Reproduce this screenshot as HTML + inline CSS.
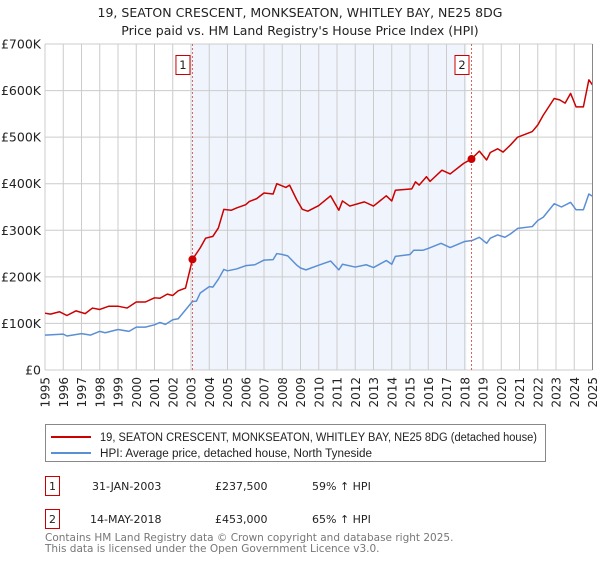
<!DOCTYPE html>
<html><head><meta charset="utf-8"><style>
body{margin:0;background:#fff;font-family:"Liberation Sans","DejaVu Sans",sans-serif;}
text{font-family:"DejaVu Sans","Liberation Sans",sans-serif;}
</style></head><body>
<svg id="chart" width="600" height="560" xmlns="http://www.w3.org/2000/svg">
<text x="300" y="17" text-anchor="middle" font-size="12.5" fill="#222">19, SEATON CRESCENT, MONKSEATON, WHITLEY BAY, NE25 8DG</text>
<text x="300" y="35" text-anchor="middle" font-size="12.5" fill="#222">Price paid vs. HM Land Registry's House Price Index (HPI)</text>
<g id="plot"></g>
<g>
<rect x="45.5" y="424.5" width="500" height="37" fill="#fff" stroke="#888"/>
<line x1="51" y1="437" x2="91" y2="437" stroke="#cc0000" stroke-width="2"/>
<text x="100" y="441" font-size="11.5" fill="#222" style="font-family:'Liberation Sans',sans-serif" textLength="437" lengthAdjust="spacingAndGlyphs">19, SEATON CRESCENT, MONKSEATON, WHITLEY BAY, NE25 8DG (detached house)</text>
<line x1="51" y1="453" x2="91" y2="453" stroke="#5b8fd4" stroke-width="2"/>
<text x="100" y="457" font-size="11.5" fill="#222" style="font-family:'Liberation Sans',sans-serif" textLength="272" lengthAdjust="spacingAndGlyphs">HPI: Average price, detached house, North Tyneside</text>
</g>
<g font-size="11" fill="#222">
<rect x="45.5" y="476.5" width="14" height="19" fill="#fff" stroke="#cc0000"/>
<text x="52.5" y="490" text-anchor="middle">1</text>
<text x="92" y="490">31-JAN-2003</text><text x="215" y="490">£237,500</text><text x="312" y="490">59% ↑ HPI</text>
</g>
<g font-size="11" fill="#222">
<rect x="45.5" y="509.5" width="14" height="19" fill="#fff" stroke="#cc0000"/>
<text x="52.5" y="523" text-anchor="middle">2</text>
<text x="90" y="523">14-MAY-2018</text><text x="215" y="523">£453,000</text><text x="312" y="523">65% ↑ HPI</text>
</g>
<text x="45" y="541" font-size="10.5" fill="#777">Contains HM Land Registry data © Crown copyright and database right 2025.</text>
<text x="45" y="552" font-size="10.5" fill="#777">This data is licensed under the Open Government Licence v3.0.</text>
</svg>
<script>
const yTicks=[0,100,200,300,400,500,600,700];
const yTickLabels=["£0","£100K","£200K","£300K","£400K","£500K","£600K","£700K"];
const xYears=[1995,1996,1997,1998,1999,2000,2001,2002,2003,2004,2005,2006,2007,2008,2009,2010,2011,2012,2013,2014,2015,2016,2017,2018,2019,2020,2021,2022,2023,2024,2025];
const saleDates=[2003.08,2018.37];
const salePrices=[237.5,453];
const saleLabels=["1","2"];
const redT=[1995,1995.3,1995.8,1996.2,1996.7,1997.2,1997.6,1998,1998.5,1999,1999.5,2000,2000.5,2001,2001.3,2001.7,2002,2002.3,2002.7,2003.08,2003.5,2003.8,2004.2,2004.5,2004.8,2005.2,2005.5,2006,2006.2,2006.6,2007,2007.5,2007.7,2008.2,2008.4,2008.8,2009.1,2009.4,2010,2010.65,2011.1,2011.3,2011.7,2012.5,2013,2013.7,2014,2014.2,2015.1,2015.3,2015.5,2015.9,2016.1,2016.75,2017.2,2017.95,2018.37,2018.8,2019.2,2019.4,2019.8,2020.1,2020.5,2020.9,2021.7,2022,2022.3,2022.9,2023.2,2023.5,2023.8,2024.1,2024.5,2024.8,2025];
const redV=[122,120,125,117,127,121,133,130,137,137,133,146,146,155,154,163,160,170,176,237.5,262,283,287,305,345,343,348,355,362,368,380,378,400,392,397,365,345,341,353,374,343,363,352,361,352,374,363,386,389,404,397,415,405,429,421,444,453,470,451,467,475,468,483,500,512,526,547,583,580,573,594,565,565,623,612];
const blueT=[1995,1996,1996.2,1997,1997.5,1998,1998.3,1999,1999.6,2000,2000.5,2001,2001.3,2001.6,2002,2002.3,2003.08,2003.3,2003.5,2004,2004.2,2004.5,2004.8,2005,2005.5,2006,2006.5,2007,2007.5,2007.7,2008,2008.3,2008.8,2009,2009.3,2010,2010.65,2011.1,2011.3,2012,2012.6,2013,2013.7,2014,2014.2,2015,2015.2,2015.7,2016,2016.7,2017.2,2018,2018.4,2018.8,2019.2,2019.4,2019.8,2020.2,2020.5,2020.9,2021.7,2022,2022.3,2022.9,2023.3,2023.8,2024.1,2024.5,2024.8,2025];
const blueV=[75,77,73,78,75,83,80,87,83,92,92,97,102,98,108,110,147,148,165,179,178,195,216,213,217,224,226,236,237,250,248,245,225,219,215,225,234,215,227,221,226,220,235,227,244,248,257,257,261,272,263,276,278,285,272,283,290,285,292,304,308,321,328,357,350,360,344,344,378,373];
const NS="http://www.w3.org/2000/svg";
const X0=45,X1=592.5,Y0=370,Y1=44;
const xs=t=>X0+(t-1995)/30*(X1-X0);
const ys=v=>Y0-v/700*(Y0-Y1);
const g=document.getElementById('plot');
function mk(tag,at){const e=document.createElementNS(NS,tag);for(const k in at)e.setAttribute(k,at[k]);g.appendChild(e);return e;}
let sh=mk('rect',{x:xs(saleDates[0]),y:Y1,width:xs(2018.1)-xs(saleDates[0]),height:Y0-Y1,fill:'#f0f4fd'});


xYears.forEach(yr=>{
 const l=mk('line',{x1:xs(yr),x2:xs(yr),y1:Y1,y2:Y0,stroke:'#ccc','stroke-width':1});
 
 
 const t=mk('text',{x:0,y:0,'font-size':12,fill:'#222','text-anchor':'end',transform:`translate(${xs(yr)+4.5},377) rotate(-90)`});
 t.textContent=yr;
 
 
});
yTicks.forEach((v,i)=>{
 const l=mk('line',{x1:X0,x2:X1,y1:ys(v),y2:ys(v),stroke:'#ccc','stroke-width':1});
 
 
 const t=mk('text',{x:41,y:ys(v)+4.5,'font-size':12.5,fill:'#222','text-anchor':'end'});
 t.textContent=yTickLabels[i];
 
 
});
function line(T,V,col,name){
 const p=mk('polyline',{points:T.map((t,i)=>xs(t)+','+ys(V[i])).join(' '),fill:'none',stroke:col,'stroke-width':1.5,'stroke-linejoin':'round'});
 
 
}
line(blueT,blueV,'#5b8fd4','hpi-line');
line(redT,redV,'#cc0000','price-paid-line');
saleDates.forEach((d,i)=>{
 const l=mk('line',{x1:xs(d),x2:xs(d),y1:Y1,y2:Y0,stroke:'#e06060','stroke-width':1,'stroke-dasharray':'2,2'});
 
 
 const c=mk('circle',{cx:xs(d),cy:ys(salePrices[i]),r:4,fill:'#cc0000'});
 
 
 const r=mk('rect',{x:xs(d)-16.5,y:55.5,width:14,height:19,fill:'#fff',stroke:'#cc0000'});
 
 
 const t=mk('text',{x:xs(d)-9.5,y:69,'font-size':11.5,fill:'#222','text-anchor':'middle'});
 t.textContent=saleLabels[i];
 
 
});
const ax=mk('line',{x1:X1,x2:X1,y1:Y1,y2:Y0,stroke:'#888'});


</script>
</body></html>
